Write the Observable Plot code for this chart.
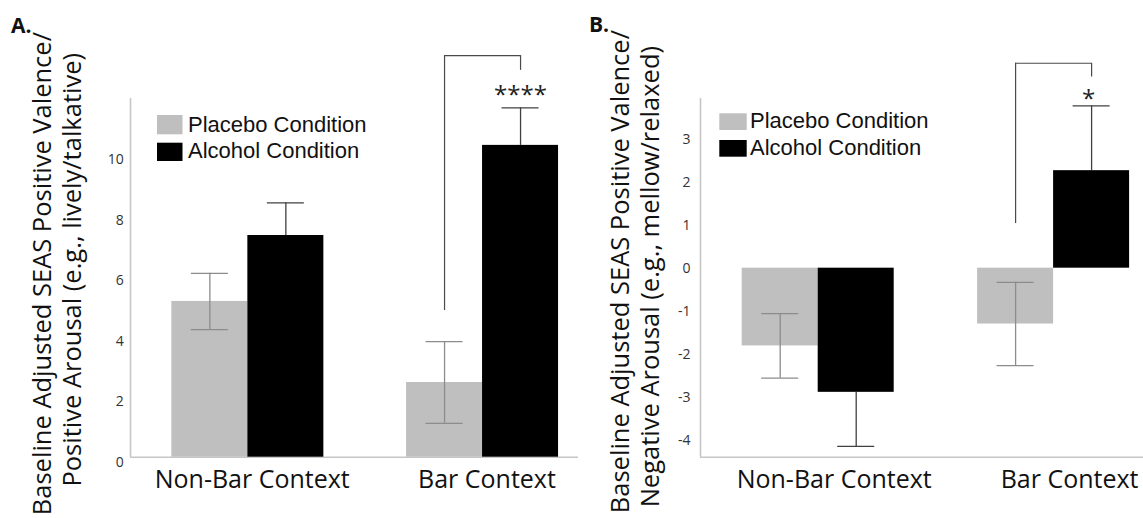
<!DOCTYPE html>
<html>
<head>
<meta charset="utf-8">
<script src="https://cdn.jsdelivr.net/npm/d3@7"></script>
<script src="https://cdn.jsdelivr.net/npm/@observablehq/plot@0.6"></script>
<style>
  html, body { margin: 0; padding: 0; background: #fff; }
  #wrap { position: relative; width: 1143px; height: 518px; overflow: hidden; background: #fff; }
  #wrap > svg { position: absolute; top: 0; }
</style>
</head>
<body>
<div id="wrap"></div>
<script>
// ---- data ----
const contexts = ["Non-Bar Context", "Bar Context"];
const conditions = ["Placebo Condition", "Alcohol Condition"];

// Panel A: positive valence / positive arousal
const placeboA = [5.15, 2.47];
const placeboSeA = [0.93, 1.35];
const alcoholA = [7.33, 10.31];
const alcoholSeA = [1.08, 1.24];
const ticksA = [0, 2, 4, 6, 8, 10];
const bracketA = [4.85, 13.28, 12.79];   // left foot, top, right foot
const starA = [12.16];
const starTextA = "****";

// Panel B: positive valence / negative arousal
const placeboB = [-1.81, -1.30];
const placeboSeB = [0.75, 0.97];
const alcoholB = [-2.89, 2.27];
const alcoholSeB = [1.26, 1.51];
const ticksB = [-4, -3, -2, -1, 0, 1, 2, 3];
const bracketB = [1.04, 4.77, 4.45];
const starB = [4.07];
const starTextB = "*";

const titleLinesA = ["Baseline Adjusted SEAS Positive Valence/", "Positive Arousal (e.g., lively/talkative)"];
const titleLinesB = ["Baseline Adjusted SEAS Positive Valence/", "Negative Arousal (e.g., mellow/relaxed)"];

// ---- drawing ----
const FONT = "'Open Sans', 'DejaVu Sans', sans-serif";
const AXIS_GRAY = "#c6c6c6";

function makePanel(o) {
  const S = (o.xRange[1] - o.xRange[0]) / contexts.length; // band step
  const W = 76;    // bar width
  const C = 18.5;  // half cap width
  const rows = contexts.map((c, i) => ({
    context: c, p: o.placebo[i], pse: o.placeboSe[i], a: o.alcohol[i], ase: o.alcoholSe[i]
  }));
  const br = [contexts[1]];
  const sgn = v => (v < 0 ? -1 : 1);
  const pBar = {insetLeft: S / 2 - W, insetRight: S / 2};
  const aBar = {insetLeft: S / 2, insetRight: S / 2 - W};
  const pCap = {insetLeft: S / 2 - W / 2 - C, insetRight: S / 2 + W / 2 - C};
  const aCap = {insetLeft: S / 2 + W / 2 - C, insetRight: S / 2 - W / 2 - C};
  const errP = {stroke: "#8c8c8c", strokeWidth: 1.3};
  const errA = {stroke: "#404040", strokeWidth: 1.3};
  const brk = {stroke: "#4a4a4a", strokeWidth: 1.2};

  const svg = Plot.plot({
    width: o.width,
    height: 518,
    marginLeft: o.marginLeft,
    marginRight: o.marginRight,
    marginTop: 98,
    marginBottom: 61.3,
    x: {type: "band", domain: contexts, range: o.xRange, padding: 0, round: false, axis: null},
    y: {domain: o.yDomain, axis: null},
    style: {background: "transparent", fontFamily: FONT, overflow: "visible"},
    marks: [
      // axis lines
      Plot.ruleY([o.yDomain[0]], {stroke: AXIS_GRAY, strokeWidth: 1.6}),
      Plot.ruleX([contexts[0]], {x: d => d, y1: o.yDomain[0], y2: o.yDomain[1], dx: -S / 2, stroke: AXIS_GRAY, strokeWidth: 1.6}),
      // placebo bars
      Plot.barY(rows, {x: "context", y1: 0, y2: "p", fill: "#bfbfbf", ...pBar}),
      // alcohol error (outward part), drawn under the bar
      Plot.ruleX(rows, {x: "context", y1: "a", y2: d => d.a + sgn(d.a) * d.ase, dx: W / 2, ...errA}),
      Plot.tickY(rows, {x: "context", y: d => d.a + sgn(d.a) * d.ase, ...errA, ...aCap}),
      // alcohol bars
      Plot.barY(rows, {x: "context", y1: 0, y2: "a", fill: "#000", ...aBar}),
      // placebo error bars
      Plot.ruleX(rows, {x: "context", y1: d => d.p - d.pse, y2: d => d.p + d.pse, dx: -W / 2, ...errP}),
      Plot.tickY(rows, {x: "context", y: d => d.p - d.pse, ...errP, ...pCap}),
      Plot.tickY(rows, {x: "context", y: d => d.p + d.pse, ...errP, ...pCap}),
      // significance bracket
      Plot.ruleX(br, {x: d => d, y1: o.bracket[0], y2: o.bracket[1], dx: -W / 2, ...brk}),
      Plot.tickY(br, {x: d => d, y: o.bracket[1], insetLeft: S / 2 - W / 2, insetRight: S / 2 - W / 2, ...brk}),
      Plot.ruleX(br, {x: d => d, y1: o.bracket[2], y2: o.bracket[1], dx: W / 2, ...brk}),
      Plot.text(br, {x: d => d, y: o.star, text: () => o.starText, dx: W / 2 + o.starDx, dy: 5.5,
        fontSize: 24, fill: "#222", fontFamily: FONT}),
      // y tick labels
      Plot.text(o.ticks, {y: d => d, text: d => String(d), frameAnchor: "left", textAnchor: "end",
        dx: -o.tickPad, dy: o.tickDy, fontSize: 14, fill: "#333", fontFamily: FONT}),
      // x category labels
      Plot.text(contexts, {x: d => d, text: d => d, frameAnchor: "bottom", lineAnchor: "top",
        dy: 13.3, dx: o.labelDx, fontSize: 25, fill: "#111", fontFamily: FONT})
    ]
  });
  svg.style.left = o.left + "px";
  return svg;
}

const wrap = document.getElementById("wrap");

wrap.appendChild(makePanel({
  left: 0, width: 580, marginLeft: 130, marginRight: 2, xRange: [130, 599.4],
  yDomain: [0, 11.86], placebo: placeboA, placeboSe: placeboSeA, alcohol: alcoholA, alcoholSe: alcoholSeA,
  ticks: ticksA, tickDy: 5, tickPad: 6.7, labelDx: 4.4,
  bracket: bracketA, star: starA[0], starText: starTextA, starDx: 0
}));

wrap.appendChild(makePanel({
  left: 580, width: 563, marginLeft: 120, marginRight: 0, xRange: [120, 590.8],
  yDomain: [-4.40, 3.95], placebo: placeboB, placeboSe: placeboSeB, alcohol: alcoholB, alcoholSe: alcoholSeB,
  ticks: ticksB, tickDy: 0, tickPad: 10, labelDx: 16,
  bracket: bracketB, star: starB[0], starText: starTextB, starDx: -3
}));

// ---- overlay: panel letters, axis titles, legends ----
const ov = d3.select(wrap).append("svg")
  .attr("width", 1143).attr("height", 518)
  .style("left", "0px").style("pointer-events", "none");

const letters = [{t: "A.", x: 11, y: 33}, {t: "B.", x: 589, y: 32}];
ov.selectAll("text.letter").data(letters).join("text")
  .attr("class", "letter")
  .attr("x", d => d.x).attr("y", d => d.y)
  .attr("font-family", FONT).attr("font-weight", 700).attr("font-size", 21)
  .attr("fill", "#111").text(d => d.t);

const titles = [
  {t: titleLinesA[0], x: 51, y: 32},
  {t: titleLinesA[1], x: 81, y: 53},
  {t: titleLinesB[0], x: 629, y: 30},
  {t: titleLinesB[1], x: 659, y: 46}
];
ov.selectAll("text.title").data(titles).join("text")
  .attr("class", "title")
  .attr("transform", d => `translate(${d.x},${d.y}) rotate(-90)`)
  .attr("text-anchor", "end")
  .attr("font-family", FONT).attr("font-size", 25.5)
  .attr("fill", "#111").text(d => d.t);

const legendColors = ["#bfbfbf", "#000"];
const legends = [
  {sx: 157, sw: 25.5, tx: 188, rows: [{sy: 115, sh: 19.3, by: 131.7}, {sy: 142.7, sh: 18.3, by: 158.3}]},
  {sx: 719.3, sw: 27.4, tx: 750, rows: [{sy: 113.3, sh: 16.7, by: 128.3}, {sy: 140, sh: 16.7, by: 155}]}
];
legends.forEach(L => {
  L.rows.forEach((r, i) => {
    ov.append("rect").attr("x", L.sx).attr("y", r.sy).attr("width", L.sw).attr("height", r.sh)
      .attr("fill", legendColors[i]);
    ov.append("text").attr("x", L.tx).attr("y", r.by)
      .attr("font-family", "'Liberation Sans', Arial, sans-serif").attr("font-size", 22)
      .attr("fill", "#111").text(conditions[i]);
  });
});
</script>
</body>
</html>
